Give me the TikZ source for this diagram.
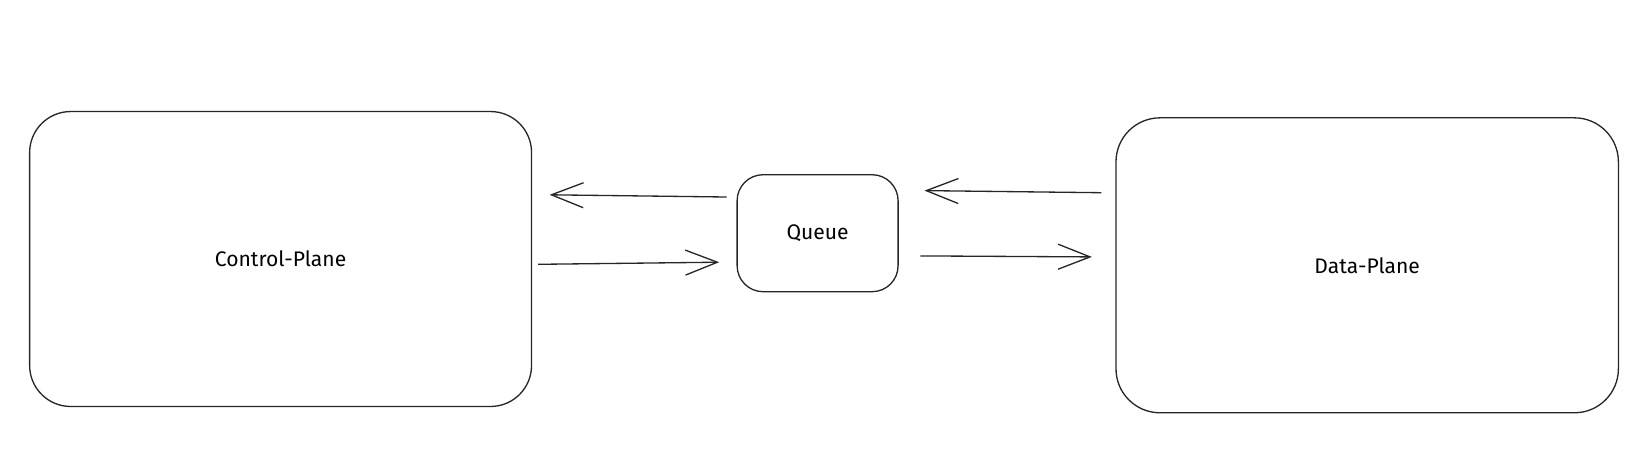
\documentclass[tikz,border=0pt]{standalone}
\usepackage{fontspec}
\setmainfont{Fira Sans}
\usetikzlibrary{arrows.meta}
\begin{document}
\begin{tikzpicture}[x=0.02cm,y=-0.02cm,
  box/.style={draw=black!85, line width=0.75pt, inner sep=0pt, font=\fontsize{12}{14}\selectfont},
  conn/.style={draw=black!85, line width=0.75pt, -{Straight Barb[length=0.64cm,width=0.5cm,line width=0.75pt]}}]
\useasboundingbox (0,0) rectangle (1651,458);
\node[box, rounded corners=0.82cm, minimum width=10.04cm, minimum height=5.9cm] (cp) at (280.6,259) {Control-Plane};
\node[box, rounded corners=0.52cm, minimum width=3.22cm, minimum height=2.34cm] (q) at (817.6,233.2) {Queue};
\node[box, rounded corners=0.88cm, minimum width=10.05cm, minimum height=5.9cm] (dp) at (1367.2,265.3) {Data-Plane};
\coordinate (a1s) at (726.6,197);
\coordinate (a1e) at (549.6,194.8);
\coordinate (a2s) at (538,264.3);
\coordinate (a2e) at (719.2,262.2);
\coordinate (a3s) at (1101.4,192.7);
\coordinate (a3e) at (924.5,190.6);
\coordinate (a4s) at (920.3,255.9);
\coordinate (a4e) at (1091.9,256.9);
\draw[conn] (a1s) -- (a1e);
\draw[conn] (a2s) -- (a2e);
\draw[conn] (a3s) -- (a3e);
\draw[conn] (a4s) -- (a4e);
\end{tikzpicture}
\end{document}
